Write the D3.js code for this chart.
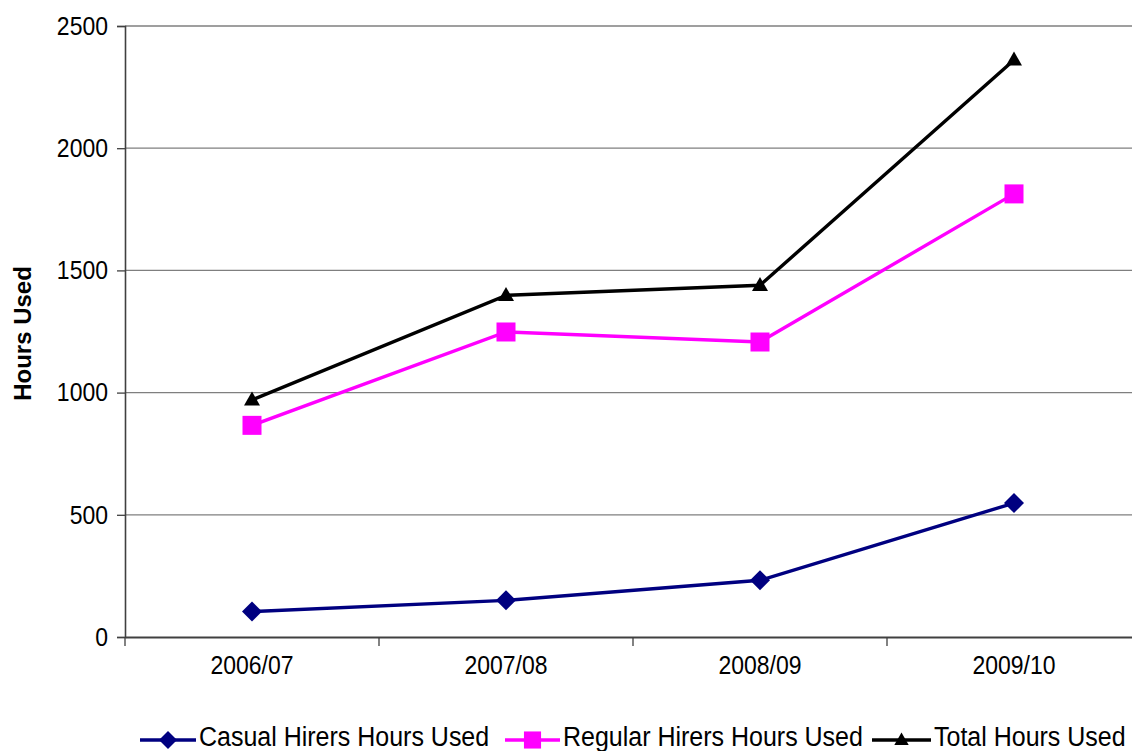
<!DOCTYPE html>
<html>
<head>
<meta charset="utf-8">
<script src="https://cdn.jsdelivr.net/npm/d3@7"></script>
<style>
  html, body { margin: 0; padding: 0; background: #fff; }
  svg { display: block; font-family: "Liberation Sans", Arial, sans-serif; }
</style>
</head>
<body>
<svg id="chart" width="1132" height="751"></svg>
<script>
// Hours used per financial year
const years = ["2006/07", "2007/08", "2008/09", "2009/10"];
const casualHours = [104, 150, 232, 548];
const regularHours = [866, 1248, 1207, 1813];
const totalHours = [970, 1398, 1439, 2361];
const yTicks = [0, 500, 1000, 1500, 2000, 2500];

const seriesNames = ["Casual Hirers Hours Used", "Regular Hirers Hours Used", "Total Hours Used"];
const seriesColors = ["#000080", "#FF00FF", "#000000"];
const seriesShapes = ["diamond", "square", "triangle"];

const series = [casualHours, regularHours, totalHours].map((vals, i) => ({
  name: seriesNames[i], color: seriesColors[i], shape: seriesShapes[i],
  values: vals.map((v, j) => ({ year: years[j], value: v }))
}));

const svg = d3.select("#chart");
const plot = { left: 125, top: 26, right: 1141, bottom: 637 };
const stretchY = 1.12; // labels are drawn slightly tall

const x = d3.scaleBand().domain(years).range([plot.left, plot.right]);
const y = d3.scaleLinear().domain([0, 2500]).range([plot.bottom, plot.top]);

// horizontal gridlines
svg.append("g")
  .selectAll("line")
  .data(yTicks.filter(d => d > 0))
  .join("line")
  .attr("x1", plot.left).attr("x2", plot.right)
  .attr("y1", d => y(d)).attr("y2", d => y(d))
  .attr("stroke", "#7f7f7f").attr("stroke-width", 1.3);

// y axis
const yAxis = svg.append("g")
  .attr("transform", `translate(${plot.left},0)`)
  .call(d3.axisLeft(y).tickValues(yTicks).tickFormat(d3.format("d")).tickSize(8).tickPadding(9));
yAxis.select(".domain").attr("stroke", "#404040").attr("stroke-width", 1.6);
yAxis.selectAll(".tick line").attr("stroke", "#404040").attr("stroke-width", 1.3);
yAxis.selectAll(".tick text")
  .attr("font-size", 23).attr("fill", "#000")
  .attr("font-family", "Liberation Sans, Arial, sans-serif")
  .attr("transform", `scale(1,${stretchY})`);

// x axis with ticks between categories
const xAxis = svg.append("g")
  .attr("transform", `translate(0,${plot.bottom})`)
  .call(d3.axisBottom(x).tickSize(0).tickPadding(0));
xAxis.select(".domain").attr("stroke", "#404040").attr("stroke-width", 1.8);
xAxis.selectAll(".tick text")
  .attr("font-size", 23).attr("fill", "#000")
  .attr("font-family", "Liberation Sans, Arial, sans-serif")
  .attr("y", 0).attr("dy", 0)
  .attr("transform", `translate(0,37) scale(1,${stretchY})`);
svg.append("g")
  .selectAll("line")
  .data(d3.range(years.length + 1))
  .join("line")
  .attr("x1", i => plot.left + i * x.step()).attr("x2", i => plot.left + i * x.step())
  .attr("y1", plot.bottom).attr("y2", plot.bottom + 9)
  .attr("stroke", "#404040").attr("stroke-width", 1.3);

// y axis title
svg.append("text")
  .attr("transform", `translate(31,${(plot.top + plot.bottom) / 2 + 2}) rotate(-90)`)
  .attr("text-anchor", "middle")
  .attr("font-size", 24).attr("font-weight", "bold")
  .text("Hours Used");

// marker drawing
function marker(g, shape, color, cx, cy, scale) {
  const s = scale || 1;
  if (shape === "diamond") {
    const r = 10 * s;
    g.append("path").attr("d", `M${cx},${cy - r}L${cx + r},${cy}L${cx},${cy + r}L${cx - r},${cy}Z`).attr("fill", color);
  } else if (shape === "square") {
    const h = 9.5 * s;
    g.append("rect").attr("x", cx - h).attr("y", cy - h).attr("width", 2 * h).attr("height", 2 * h).attr("fill", color);
  } else {
    const w = 8 * s, hgt = 14 * s;
    g.append("path").attr("d", `M${cx},${cy - hgt * 0.6}L${cx + w},${cy + hgt * 0.4}L${cx - w},${cy + hgt * 0.4}Z`).attr("fill", color);
  }
}

const cx = d => x(d.year) + x.bandwidth() / 2;
const line = d3.line().x(cx).y(d => y(d.value));

series.forEach(s => {
  const g = svg.append("g");
  g.append("path").datum(s.values)
    .attr("d", line).attr("fill", "none")
    .attr("stroke", s.color).attr("stroke-width", 3.4);
  s.values.forEach(d => marker(g, s.shape, s.color, cx(d), y(d.value)));
});

// legend
const legendItems = [
  { x: 140, textX: 199 },
  { x: 505, textX: 563 },
  { x: 872, textX: 934 }
];
const legendY = 740;
series.forEach((s, i) => {
  const li = legendItems[i];
  const g = svg.append("g");
  g.append("line").attr("x1", li.x).attr("x2", li.textX - 3)
    .attr("y1", legendY).attr("y2", legendY)
    .attr("stroke", s.color).attr("stroke-width", 3.4);
  marker(g, s.shape, s.color, (li.x + li.textX - 3) / 2, legendY, 0.9);
  g.append("text")
    .attr("transform", `translate(${li.textX},${legendY + 6}) scale(1,1.08)`)
    .attr("font-size", 25).attr("fill", "#000")
    .text(s.name);
});
</script>
</body>
</html>
